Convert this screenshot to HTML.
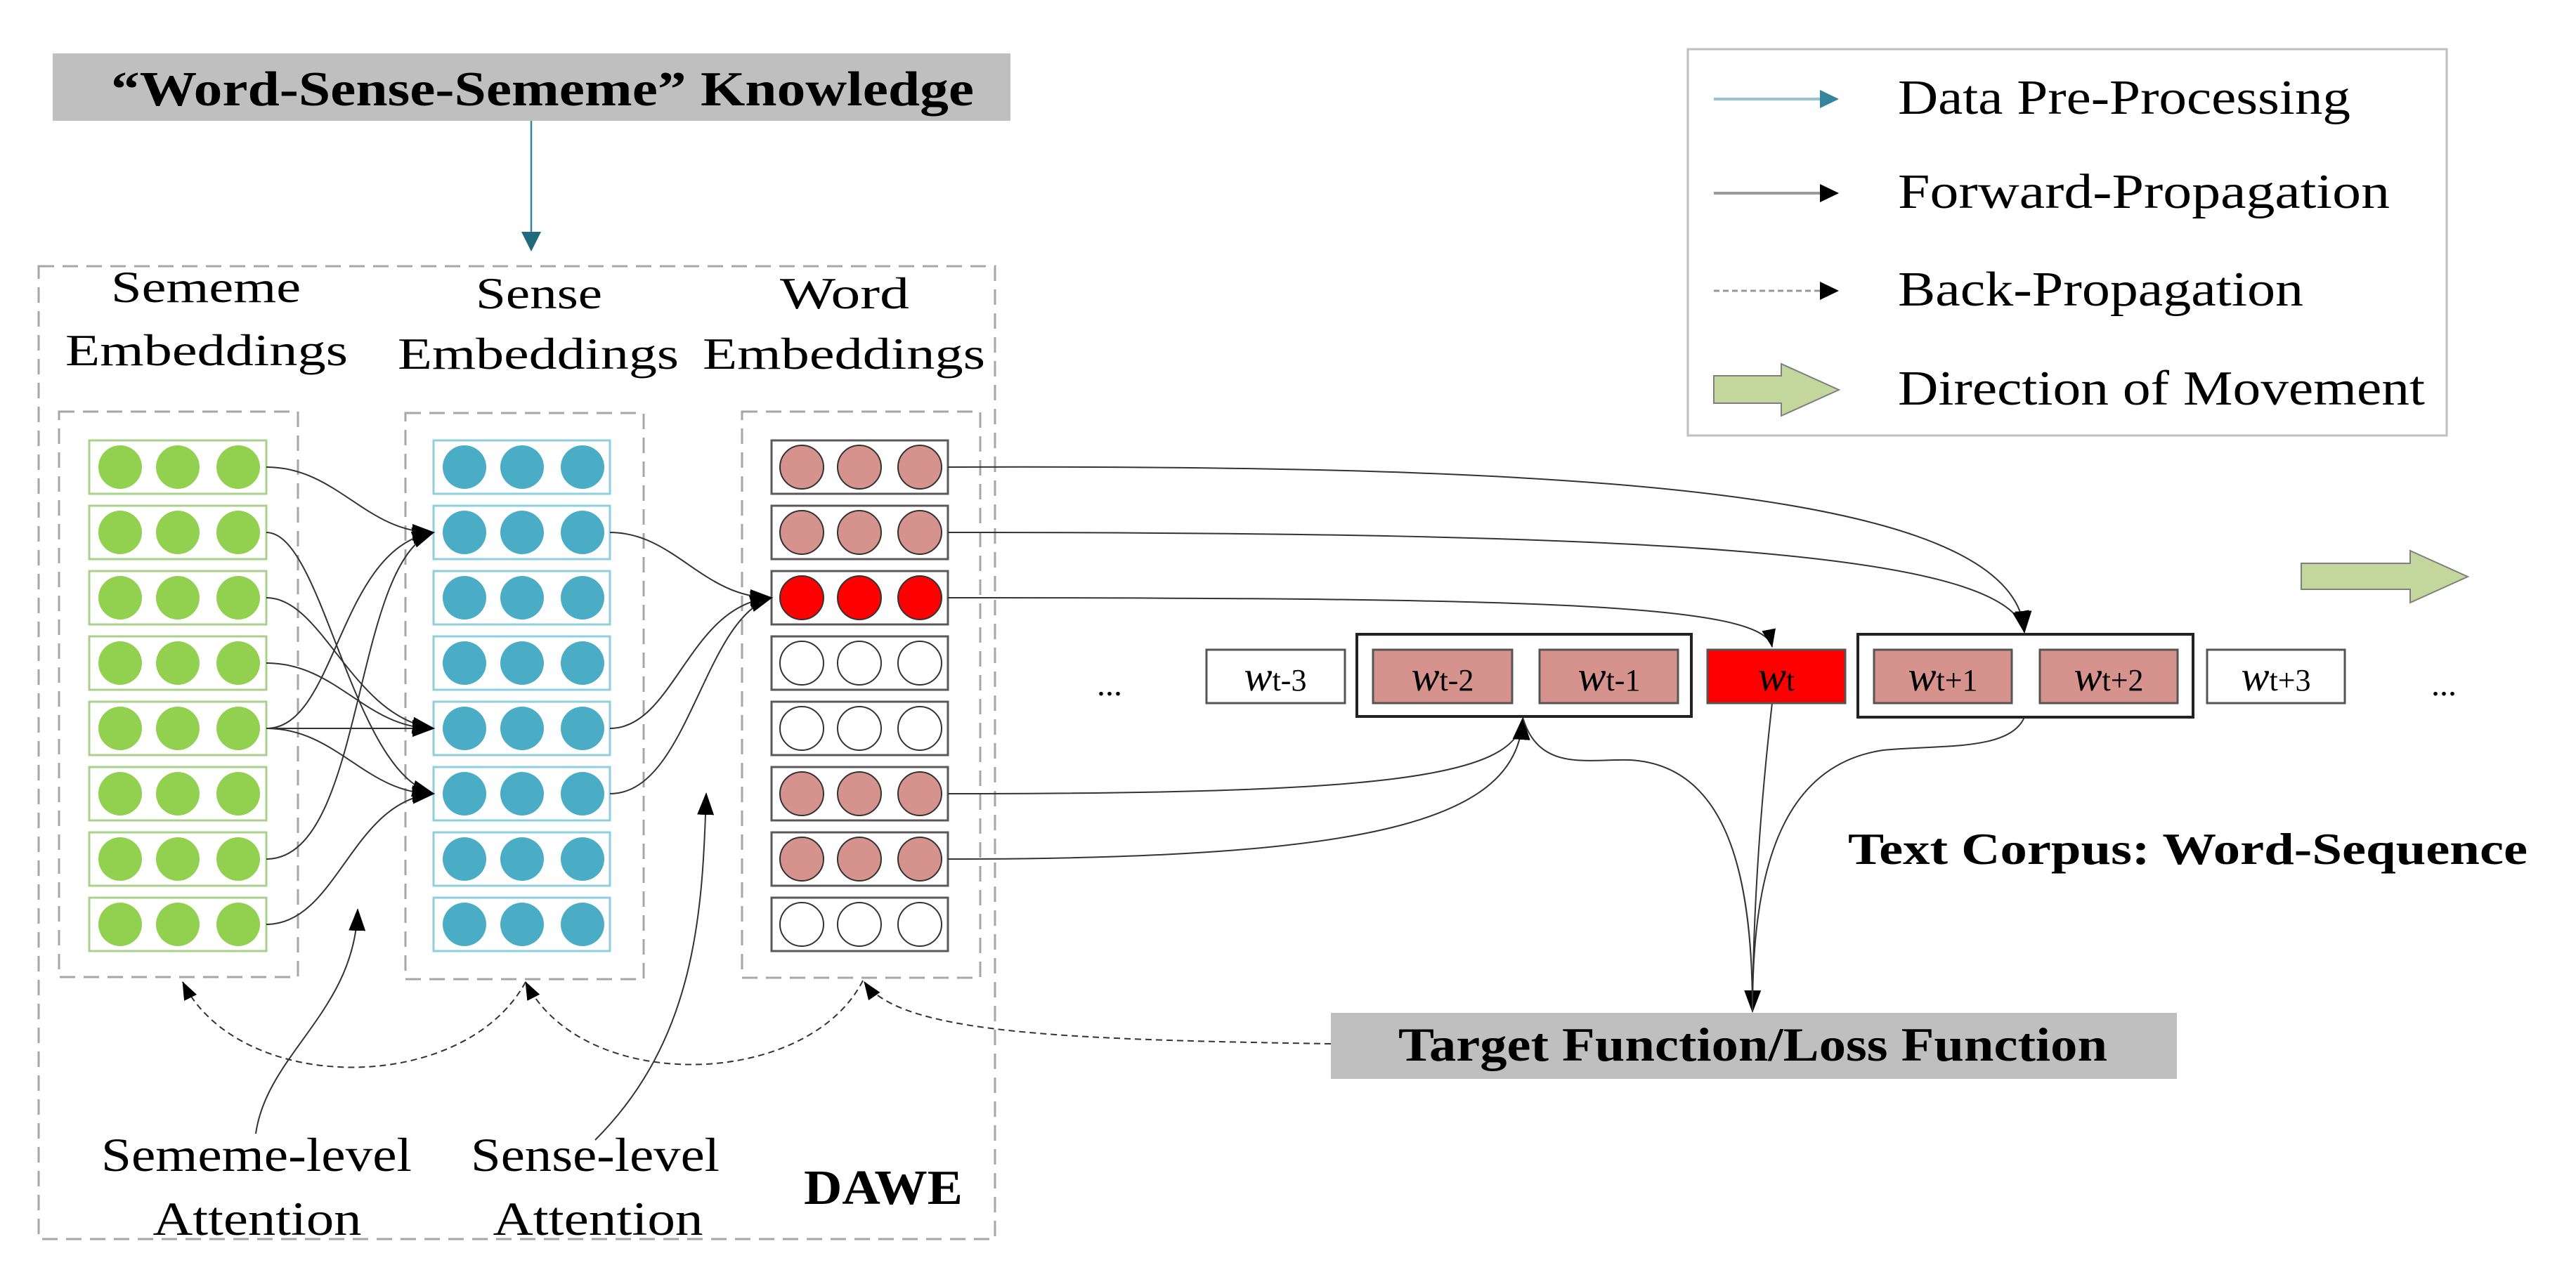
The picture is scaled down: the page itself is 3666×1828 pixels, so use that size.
<!DOCTYPE html>
<html><head><meta charset="utf-8"><style>
html,body{margin:0;padding:0;background:#fff;}
svg{display:block;}
text{font-family:"Liberation Serif",serif;fill:#000;}
</style></head><body>
<svg width="3666" height="1828" viewBox="0 0 3666 1828" xmlns="http://www.w3.org/2000/svg">
<defs>
<marker id="ah" markerUnits="userSpaceOnUse" markerWidth="34" markerHeight="28" refX="30" refY="14" orient="auto"><path d="M0,2 L32,14 L0,26 Z" fill="#000"/></marker>
<marker id="ahs" markerUnits="userSpaceOnUse" markerWidth="28" markerHeight="22" refX="25" refY="11" orient="auto"><path d="M0,1 L26,11 L0,21 Z" fill="#000"/></marker>
</defs>

<!-- Header -->
<rect x="75" y="76" width="1363" height="96" fill="#bfbfbf"/>
<text x="158" y="150" font-size="70" font-weight="bold" textLength="1228" lengthAdjust="spacingAndGlyphs">“Word-Sense-Sememe”  Knowledge</text>
<line x1="756" y1="172" x2="756" y2="332" stroke="#31859c" stroke-width="2.5"/>
<path d="M742,330 L770,330 L756,358 Z" fill="#1f6b7c"/>

<!-- Outer DAWE box -->
<rect x="55" y="379" width="1361" height="1385" fill="none" stroke="#a6a6a6" stroke-width="3" stroke-dasharray="22,12"/>

<!-- Titles -->
<text x="293" y="430" font-size="64" text-anchor="middle" textLength="270" lengthAdjust="spacingAndGlyphs">Sememe</text>
<text x="294" y="520" font-size="64" text-anchor="middle" textLength="402" lengthAdjust="spacingAndGlyphs">Embeddings</text>
<text x="767" y="439" font-size="64" text-anchor="middle" textLength="180" lengthAdjust="spacingAndGlyphs">Sense</text>
<text x="766" y="525" font-size="64" text-anchor="middle" textLength="400" lengthAdjust="spacingAndGlyphs">Embeddings</text>
<text x="1202" y="439" font-size="64" text-anchor="middle" textLength="184" lengthAdjust="spacingAndGlyphs">Word</text>
<text x="1201" y="525" font-size="64" text-anchor="middle" textLength="402" lengthAdjust="spacingAndGlyphs">Embeddings</text>

<!-- inner dashed boxes -->
<rect x="84" y="586" width="340" height="805" fill="none" stroke="#a6a6a6" stroke-width="3" stroke-dasharray="22,12"/>
<rect x="577" y="588" width="339" height="806" fill="none" stroke="#a6a6a6" stroke-width="3" stroke-dasharray="22,12"/>
<rect x="1056" y="586" width="339" height="806" fill="none" stroke="#a6a6a6" stroke-width="3" stroke-dasharray="22,12"/>

<!-- Sememe rows -->
<g stroke="#a9d18e" stroke-width="3" fill="#fff">
<rect x="127" y="627" width="252" height="76"/><rect x="127" y="720" width="252" height="76"/>
<rect x="127" y="813" width="252" height="76"/><rect x="127" y="906" width="252" height="76"/>
<rect x="127" y="999" width="252" height="76"/><rect x="127" y="1092" width="252" height="76"/>
<rect x="127" y="1185" width="252" height="76"/><rect x="127" y="1278" width="252" height="76"/>
</g>
<g fill="#92d050">
<circle cx="171" cy="665" r="31"/><circle cx="253" cy="665" r="31"/><circle cx="339" cy="665" r="31"/>
<circle cx="171" cy="758" r="31"/><circle cx="253" cy="758" r="31"/><circle cx="339" cy="758" r="31"/>
<circle cx="171" cy="851" r="31"/><circle cx="253" cy="851" r="31"/><circle cx="339" cy="851" r="31"/>
<circle cx="171" cy="944" r="31"/><circle cx="253" cy="944" r="31"/><circle cx="339" cy="944" r="31"/>
<circle cx="171" cy="1037" r="31"/><circle cx="253" cy="1037" r="31"/><circle cx="339" cy="1037" r="31"/>
<circle cx="171" cy="1130" r="31"/><circle cx="253" cy="1130" r="31"/><circle cx="339" cy="1130" r="31"/>
<circle cx="171" cy="1223" r="31"/><circle cx="253" cy="1223" r="31"/><circle cx="339" cy="1223" r="31"/>
<circle cx="171" cy="1316" r="31"/><circle cx="253" cy="1316" r="31"/><circle cx="339" cy="1316" r="31"/>
</g>

<!-- Sense rows -->
<g stroke="#8ccfe0" stroke-width="3" fill="#fff">
<rect x="617" y="627" width="251" height="76"/><rect x="617" y="720" width="251" height="76"/>
<rect x="617" y="813" width="251" height="76"/><rect x="617" y="906" width="251" height="76"/>
<rect x="617" y="999" width="251" height="76"/><rect x="617" y="1092" width="251" height="76"/>
<rect x="617" y="1185" width="251" height="76"/><rect x="617" y="1278" width="251" height="76"/>
</g>
<g fill="#4bacc6">
<circle cx="661" cy="665" r="31"/><circle cx="743" cy="665" r="31"/><circle cx="829" cy="665" r="31"/>
<circle cx="661" cy="758" r="31"/><circle cx="743" cy="758" r="31"/><circle cx="829" cy="758" r="31"/>
<circle cx="661" cy="851" r="31"/><circle cx="743" cy="851" r="31"/><circle cx="829" cy="851" r="31"/>
<circle cx="661" cy="944" r="31"/><circle cx="743" cy="944" r="31"/><circle cx="829" cy="944" r="31"/>
<circle cx="661" cy="1037" r="31"/><circle cx="743" cy="1037" r="31"/><circle cx="829" cy="1037" r="31"/>
<circle cx="661" cy="1130" r="31"/><circle cx="743" cy="1130" r="31"/><circle cx="829" cy="1130" r="31"/>
<circle cx="661" cy="1223" r="31"/><circle cx="743" cy="1223" r="31"/><circle cx="829" cy="1223" r="31"/>
<circle cx="661" cy="1316" r="31"/><circle cx="743" cy="1316" r="31"/><circle cx="829" cy="1316" r="31"/>
</g>

<!-- Word rows -->
<g stroke="#595959" stroke-width="3" fill="#fff">
<rect x="1098" y="627" width="251" height="76"/><rect x="1098" y="720" width="251" height="76"/>
<rect x="1098" y="813" width="251" height="76"/><rect x="1098" y="906" width="251" height="76"/>
<rect x="1098" y="999" width="251" height="76"/><rect x="1098" y="1092" width="251" height="76"/>
<rect x="1098" y="1185" width="251" height="76"/><rect x="1098" y="1278" width="251" height="76"/>
</g>
<g stroke="#333" stroke-width="2">
<g fill="#d6938e">
<circle cx="1141" cy="665" r="31"/><circle cx="1223" cy="665" r="31"/><circle cx="1309" cy="665" r="31"/>
<circle cx="1141" cy="758" r="31"/><circle cx="1223" cy="758" r="31"/><circle cx="1309" cy="758" r="31"/>
<circle cx="1141" cy="1130" r="31"/><circle cx="1223" cy="1130" r="31"/><circle cx="1309" cy="1130" r="31"/>
<circle cx="1141" cy="1223" r="31"/><circle cx="1223" cy="1223" r="31"/><circle cx="1309" cy="1223" r="31"/>
</g>
<g fill="#ff0000">
<circle cx="1141" cy="851" r="31"/><circle cx="1223" cy="851" r="31"/><circle cx="1309" cy="851" r="31"/>
</g>
<g fill="#fff">
<circle cx="1141" cy="944" r="31"/><circle cx="1223" cy="944" r="31"/><circle cx="1309" cy="944" r="31"/>
<circle cx="1141" cy="1037" r="31"/><circle cx="1223" cy="1037" r="31"/><circle cx="1309" cy="1037" r="31"/>
<circle cx="1141" cy="1316" r="31"/><circle cx="1223" cy="1316" r="31"/><circle cx="1309" cy="1316" r="31"/>
</g>
</g>

<!-- Sememe -> Sense connections -->
<g fill="none" stroke="#333" stroke-width="2">
<path d="M379,665 C480,665 520,758 617,758" marker-end="url(#ah)"/>
<path d="M379,758 C460,758 500,1100 617,1130" marker-end="url(#ah)"/>
<path d="M379,851 C460,851 500,1020 617,1037" marker-end="url(#ah)"/>
<path d="M379,944 C480,944 520,1037 617,1037" marker-end="url(#ah)"/>
<path d="M379,1037 L617,1037" marker-end="url(#ah)"/>
<path d="M379,1037 C480,1037 480,780 617,758" marker-end="url(#ah)"/>
<path d="M379,1037 C480,1037 520,1130 617,1130" marker-end="url(#ah)"/>
<path d="M379,1223 C520,1223 500,800 617,758" marker-end="url(#ah)"/>
<path d="M379,1316 C480,1316 500,1140 617,1130" marker-end="url(#ah)"/>
<!-- Sense -> Word -->
<path d="M868,758 C960,758 1000,851 1098,851" marker-end="url(#ah)"/>
<path d="M868,1037 C960,1037 980,860 1098,851" marker-end="url(#ah)"/>
<path d="M868,1130 C980,1130 1000,880 1098,851" marker-end="url(#ah)"/>
<!-- Word -> sequence -->
<path d="M1349,665 C2200,662 2870,690 2881,900" marker-end="url(#ah)"/>
<path d="M1349,758 C2300,758 2860,780 2881,900" marker-end="url(#ah)"/>
<path d="M1349,851 C2200,851 2510,860 2522,921" marker-end="url(#ahs)"/>
<path d="M1349,1130 C1950,1130 2160,1110 2167,1023" marker-end="url(#ah)"/>
<path d="M1349,1223 C1950,1223 2160,1170 2167,1023" marker-end="url(#ah)"/>
<!-- to target -->
<path d="M2522,1001 C2505,1150 2495,1300 2494,1440" marker-end="url(#ah)"/>
<path d="M2167,1021 C2190,1100 2260,1080 2320,1082 C2460,1090 2494,1250 2494,1440"/>
<path d="M2881,1021 C2860,1070 2760,1060 2680,1068 C2530,1090 2494,1250 2494,1440"/>
<!-- attention -->
<path d="M364,1614 C380,1500 505,1440 509,1295" marker-end="url(#ah)"/>
<path d="M847,1623 C990,1480 1000,1300 1005,1130" marker-end="url(#ah)"/>
</g>

<!-- back-propagation dashed -->
<g fill="none" stroke="#333" stroke-width="2" stroke-dasharray="9,6">
<path d="M1894,1486 C1500,1480 1280,1470 1230,1398" marker-end="url(#ahs)"/>
<path d="M1228,1396 C1150,1550 830,1560 748,1398" marker-end="url(#ahs)"/>
<path d="M748,1398 C660,1560 340,1560 260,1398" marker-end="url(#ahs)"/>
</g>

<!-- Labels -->
<text x="365" y="1667" font-size="68" text-anchor="middle" textLength="442" lengthAdjust="spacingAndGlyphs">Sememe-level</text>
<text x="366" y="1758" font-size="68" text-anchor="middle" textLength="297" lengthAdjust="spacingAndGlyphs">Attention</text>
<text x="847" y="1667" font-size="68" text-anchor="middle" textLength="354" lengthAdjust="spacingAndGlyphs">Sense-level</text>
<text x="851" y="1758" font-size="68" text-anchor="middle" textLength="299" lengthAdjust="spacingAndGlyphs">Attention</text>
<text x="1257" y="1714" font-size="70" font-weight="bold" text-anchor="middle" textLength="226" lengthAdjust="spacingAndGlyphs">DAWE</text>

<!-- Sequence -->
<rect x="1931" y="903" width="476" height="117" fill="none" stroke="#222" stroke-width="4"/>
<rect x="2644" y="903" width="477" height="118" fill="none" stroke="#222" stroke-width="4"/>
<g stroke="#555" stroke-width="3">
<rect x="1717" y="925" width="197" height="76" fill="#fff"/>
<rect x="1954" y="925" width="198" height="76" fill="#d6938e"/>
<rect x="2191" y="925" width="197" height="76" fill="#d6938e"/>
<rect x="2430" y="925" width="196" height="76" fill="#ff0000"/>
<rect x="2667" y="925" width="196" height="76" fill="#d6938e"/>
<rect x="2903" y="925" width="196" height="76" fill="#d6938e"/>
<rect x="3141" y="925" width="196" height="76" fill="#fff"/>
</g>
<g font-size="44">
<text x="1815" y="983" text-anchor="middle"><tspan font-style="italic" font-size="60">w</tspan>t-3</text>
<text x="2053" y="983" text-anchor="middle"><tspan font-style="italic" font-size="60">w</tspan>t-2</text>
<text x="2290" y="983" text-anchor="middle"><tspan font-style="italic" font-size="60">w</tspan>t-1</text>
<text x="2528" y="983" text-anchor="middle"><tspan font-style="italic" font-size="60">w</tspan>t</text>
<text x="2765" y="983" text-anchor="middle"><tspan font-style="italic" font-size="60">w</tspan>t+1</text>
<text x="3001" y="983" text-anchor="middle"><tspan font-style="italic" font-size="60">w</tspan>t+2</text>
<text x="3239" y="983" text-anchor="middle"><tspan font-style="italic" font-size="60">w</tspan>t+3</text>
</g>
<text x="1579" y="990" font-size="48" text-anchor="middle">...</text>
<text x="3478" y="990" font-size="48" text-anchor="middle">...</text>

<text x="2630" y="1230" font-size="64" font-weight="bold" textLength="967" lengthAdjust="spacingAndGlyphs">Text Corpus: Word-Sequence</text>

<!-- Target -->
<rect x="1894" y="1442" width="1204" height="94" fill="#bfbfbf"/>
<text x="1990" y="1510" font-size="68" font-weight="bold" textLength="1009" lengthAdjust="spacingAndGlyphs">Target Function/Loss Function</text>

<!-- big green arrow -->
<path d="M3275,802 L3430,802 L3430,784 L3512,821 L3430,858 L3430,839 L3275,839 Z" fill="#c3d69b" stroke="#7f7f7f" stroke-width="2"/>

<!-- Legend -->
<rect x="2402" y="70" width="1080" height="550" fill="#fff" stroke="#bfbfbf" stroke-width="3"/>
<line x1="2439" y1="141" x2="2595" y2="141" stroke="#93c4d1" stroke-width="4"/>
<path d="M2590,128 L2617,141 L2590,154 Z" fill="#31859c"/>
<line x1="2439" y1="275" x2="2595" y2="275" stroke="#999" stroke-width="4"/>
<path d="M2590,262 L2617,275 L2590,288 Z" fill="#000"/>
<line x1="2439" y1="414" x2="2595" y2="414" stroke="#999" stroke-width="3" stroke-dasharray="8,5"/>
<path d="M2590,401 L2617,414 L2590,427 Z" fill="#000"/>
<path d="M2439,535 L2535,535 L2535,518 L2617,555 L2535,592 L2535,574 L2439,574 Z" fill="#c3d69b" stroke="#7f7f7f" stroke-width="2"/>
<g font-size="70">
<text x="2701" y="162" textLength="644" lengthAdjust="spacingAndGlyphs">Data Pre-Processing</text>
<text x="2701" y="296" textLength="700" lengthAdjust="spacingAndGlyphs">Forward-Propagation</text>
<text x="2701" y="435" textLength="577" lengthAdjust="spacingAndGlyphs">Back-Propagation</text>
<text x="2701" y="576" textLength="750" lengthAdjust="spacingAndGlyphs">Direction of Movement</text>
</g>
</svg>
</body></html>
